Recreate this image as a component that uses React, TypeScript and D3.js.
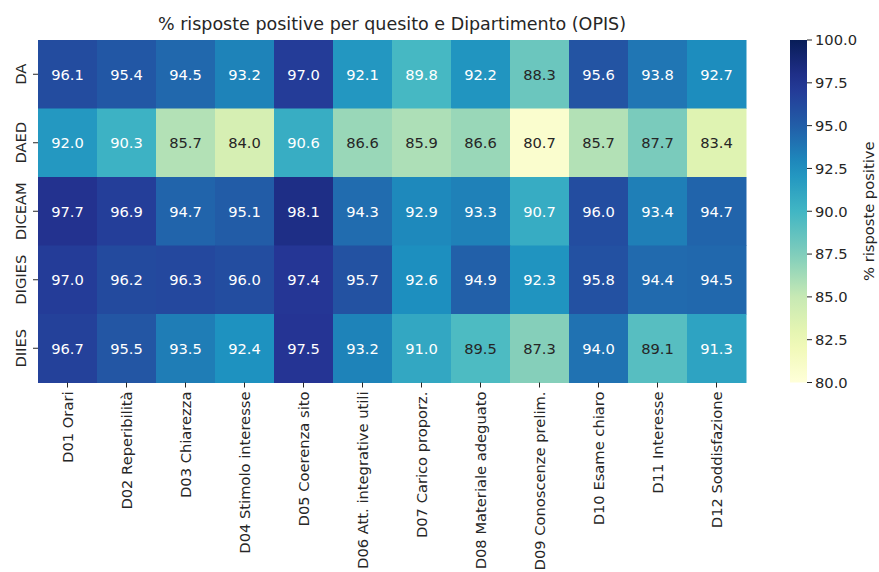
import React, { useEffect, useRef } from 'react';
import * as d3 from 'd3';

const departments = ['DA', 'DAED', 'DICEAM', 'DIGIES', 'DIIES'];
const questions = [
  'D01 Orari',
  'D02 Reperibilità',
  'D03 Chiarezza',
  'D04 Stimolo interesse',
  'D05 Coerenza sito',
  'D06 Att. integrative utili',
  'D07 Carico proporz.',
  'D08 Materiale adeguato',
  'D09 Conoscenze prelim.',
  'D10 Esame chiaro',
  'D11 Interesse',
  'D12 Soddisfazione',
];
const valuesDA = [96.1, 95.4, 94.5, 93.2, 97.0, 92.1, 89.8, 92.2, 88.3, 95.6, 93.8, 92.7];
const valuesDAED = [92.0, 90.3, 85.7, 84.0, 90.6, 86.6, 85.9, 86.6, 80.7, 85.7, 87.7, 83.4];
const valuesDICEAM = [97.7, 96.9, 94.7, 95.1, 98.1, 94.3, 92.9, 93.3, 90.7, 96.0, 93.4, 94.7];
const valuesDIGIES = [97.0, 96.2, 96.3, 96.0, 97.4, 95.7, 92.6, 94.9, 92.3, 95.8, 94.4, 94.5];
const valuesDIIES = [96.7, 95.5, 93.5, 92.4, 97.5, 93.2, 91.0, 89.5, 87.3, 94.0, 89.1, 91.3];
const colorbarTicks = [80, 82.5, 85, 87.5, 90, 92.5, 95, 97.5, 100];

const rows = [valuesDA, valuesDAED, valuesDICEAM, valuesDIGIES, valuesDIIES];

const W = 879;
const H = 572;
const FONT = 'DejaVu Sans, sans-serif';
const FS = 14.7;

// relative luminance, same rule seaborn uses for annotation colour
function luminance(c: string): number {
  const rgb = d3.rgb(c);
  const lin = (v: number) => {
    const s = v / 255;
    return s <= 0.03928 ? s / 12.92 : Math.pow((s + 0.055) / 1.055, 2.4);
  };
  return 0.2126 * lin(rgb.r) + 0.7152 * lin(rgb.g) + 0.0722 * lin(rgb.b);
}

const App: React.FC = () => {
  const svgRef = useRef<SVGSVGElement>(null);

  useEffect(() => {
    if (!svgRef.current) return;
    const svg = d3.select(svgRef.current);
    svg.selectAll('*').remove();

    const margin = { top: 40, left: 38, right: 746, bottom: 382.5 };

    const x = d3.scaleBand<string>().domain(questions).range([margin.left, margin.right]);
    const y = d3.scaleBand<string>().domain(departments).range([margin.top, margin.bottom]);

    const interp = d3.piecewise(d3.interpolateRgb, d3.schemeYlGnBu[9] as string[]);
    const color = d3.scaleSequential(interp).domain([80, 100]).clamp(true);

    const cells = rows.flatMap((vals, r) =>
      vals.map((v, c) => ({ dept: departments[r], q: questions[c], v }))
    );

    const g = svg.append('g');
    g.selectAll('rect.cell')
      .data(cells)
      .enter()
      .append('rect')
      .attr('class', 'cell')
      .attr('x', (d) => x(d.q)!)
      .attr('y', (d) => y(d.dept)!)
      .attr('width', x.bandwidth() + 0.5)
      .attr('height', y.bandwidth() + 0.5)
      .attr('fill', (d) => color(d.v));

    g.selectAll('text.annot')
      .data(cells)
      .enter()
      .append('text')
      .attr('class', 'annot')
      .attr('x', (d) => x(d.q)! + x.bandwidth() / 2)
      .attr('y', (d) => y(d.dept)! + y.bandwidth() / 2)
      .attr('dy', '0.36em')
      .attr('text-anchor', 'middle')
      .attr('font-family', FONT)
      .attr('font-size', FS)
      .attr('fill', (d) => (luminance(color(d.v)) > 0.408 ? '#262626' : '#ffffff'))
      .text((d) => d.v.toFixed(1));

    // x axis
    const xAxis = svg.append('g');
    questions.forEach((q) => {
      const cx = x(q)! + x.bandwidth() / 2;
      xAxis.append('line')
        .attr('x1', cx).attr('x2', cx)
        .attr('y1', margin.bottom).attr('y2', margin.bottom + 5)
        .attr('stroke', '#262626').attr('stroke-width', 1);
      xAxis.append('text')
        .attr('transform', `translate(${cx},${margin.bottom + 9}) rotate(-90)`)
        .attr('text-anchor', 'end')
        .attr('dy', '0.36em')
        .attr('font-family', FONT)
        .attr('font-size', FS)
        .attr('fill', '#262626')
        .text(q);
    });

    // y axis
    const yAxis = svg.append('g');
    departments.forEach((d) => {
      const cy = y(d)! + y.bandwidth() / 2;
      yAxis.append('line')
        .attr('x1', margin.left - 5).attr('x2', margin.left)
        .attr('y1', cy).attr('y2', cy)
        .attr('stroke', '#262626').attr('stroke-width', 1);
      yAxis.append('text')
        .attr('transform', `translate(${margin.left - 9},${cy}) rotate(-90)`)
        .attr('text-anchor', 'middle')
        .attr('dy', '-0.2em')
        .attr('font-family', FONT)
        .attr('font-size', FS)
        .attr('fill', '#262626')
        .text(d);
    });

    // title
    svg.append('text')
      .attr('x', (margin.left + margin.right) / 2)
      .attr('y', 30)
      .attr('text-anchor', 'middle')
      .attr('font-family', FONT)
      .attr('font-size', 17.5)
      .attr('fill', '#262626')
      .text('% risposte positive per quesito e Dipartimento (OPIS)');

    // colorbar
    const cbX = 790;
    const cbW = 17;
    const cbScale = d3.scaleLinear().domain([80, 100]).range([margin.bottom, margin.top]);
    const defs = svg.append('defs');
    const grad = defs.append('linearGradient')
      .attr('id', 'cbgrad')
      .attr('x1', 0).attr('y1', 1).attr('x2', 0).attr('y2', 0);
    d3.range(0, 1.0001, 0.05).forEach((t) => {
      grad.append('stop')
        .attr('offset', `${t * 100}%`)
        .attr('stop-color', color(80 + t * 20));
    });
    svg.append('rect')
      .attr('x', cbX)
      .attr('y', margin.top)
      .attr('width', cbW)
      .attr('height', margin.bottom - margin.top)
      .attr('fill', 'url(#cbgrad)');

    const cbAxis = svg.append('g').attr('transform', `translate(${cbX + cbW},0)`);
    colorbarTicks.forEach((t) => {
      cbAxis.append('line')
        .attr('x1', 0).attr('x2', 5)
        .attr('y1', cbScale(t)).attr('y2', cbScale(t))
        .attr('stroke', '#262626');
      cbAxis.append('text')
        .attr('x', 8)
        .attr('y', cbScale(t))
        .attr('dy', '0.36em')
        .attr('font-family', FONT)
        .attr('font-size', FS)
        .attr('fill', '#262626')
        .text(t.toFixed(1));
    });

    svg.append('text')
      .attr('transform', `translate(873,${(margin.top + margin.bottom) / 2}) rotate(-90)`)
      .attr('text-anchor', 'middle')
      .attr('dy', '0.1em')
      .attr('font-family', FONT)
      .attr('font-size', FS)
      .attr('fill', '#262626')
      .text('% risposte positive');
  }, []);

  return (
    <div style={{ position: 'absolute', left: 0, top: 0 }}>
      <svg ref={svgRef} width={W} height={H} style={{ display: 'block', background: '#fff' }} />
    </div>
  );
};

export default App;
